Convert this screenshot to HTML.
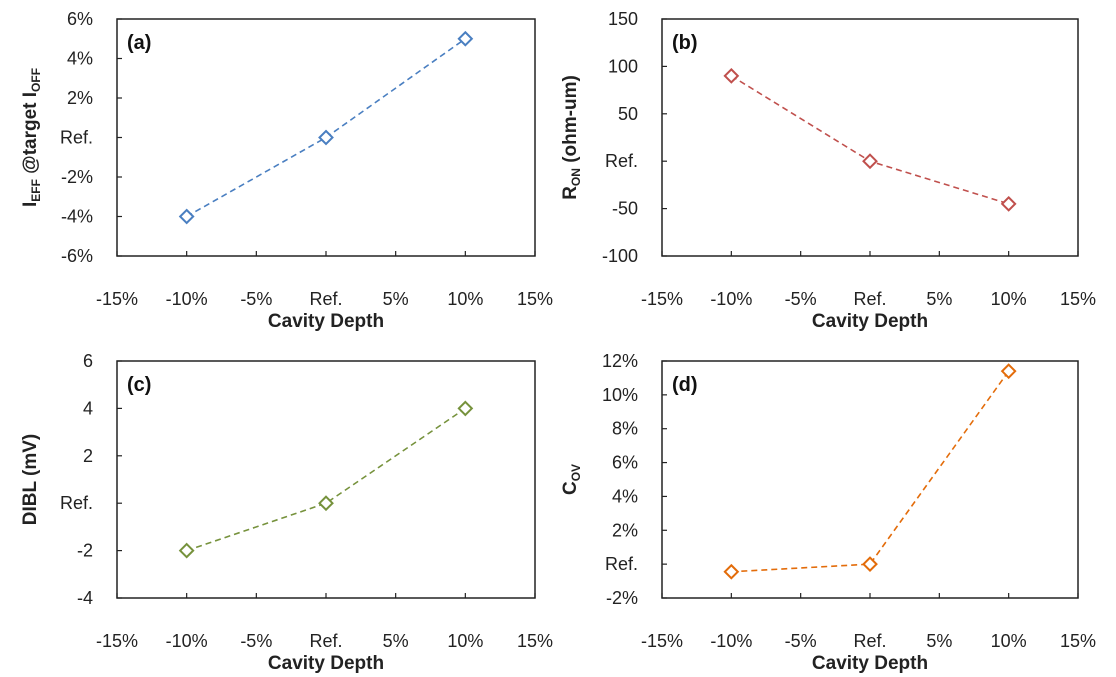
<!DOCTYPE html>
<html><head><meta charset="utf-8"><style>
html,body{margin:0;padding:0;background:#fff;}
svg{display:block;font-family:"Liberation Sans",sans-serif;}
</style></head><body>
<svg id="fig" width="1116" height="677" viewBox="0 0 1116 677"></svg>
<script>
const xCats = [-10, 0, 10];
const xTicks = [-15, -10, -5, 0, 5, 10, 15];
const xTickLabels = ["-15%", "-10%", "-5%", "Ref.", "5%", "10%", "15%"];
const seriesA = [-4, 0, 5];
const seriesB = [90, 0, -45];
const seriesC = [-2, 0, 4];
const seriesD = [-0.45, 0, 11.4];
const yTicksA = [-6, -4, -2, 0, 2, 4, 6];
const yLabelsA = ["-6%", "-4%", "-2%", "Ref.", "2%", "4%", "6%"];
const yTicksB = [-100, -50, 0, 50, 100, 150];
const yLabelsB = ["-100", "-50", "Ref.", "50", "100", "150"];
const yTicksC = [-4, -2, 0, 2, 4, 6];
const yLabelsC = ["-4", "-2", "Ref.", "2", "4", "6"];
const yTicksD = [-2, 0, 2, 4, 6, 8, 10, 12];
const yLabelsD = ["-2%", "Ref.", "2%", "4%", "6%", "8%", "10%", "12%"];

const NS = "http://www.w3.org/2000/svg";
const svg = document.getElementById("fig");
function mk(tag, attrs, parent) {
  const e = document.createElementNS(NS, tag);
  for (const k in attrs) e.setAttribute(k, attrs[k]);
  (parent || svg).appendChild(e);
  return e;
}
function panel(cfg) {
  const g = mk("g", {});
  
  
  const L = cfg.x0, R = cfg.x1, T = cfg.y0, B = cfg.y1;
  const yMin = cfg.yTicks[0], yMax = cfg.yTicks[cfg.yTicks.length - 1];
  const sx = v => L + (v - xTicks[0]) / (xTicks[xTicks.length - 1] - xTicks[0]) * (R - L);
  const sy = v => B - (v - yMin) / (yMax - yMin) * (B - T);
  const frame = mk("rect", {x: L, y: T, width: R - L, height: B - T, fill: "none", stroke: "#222", "stroke-width": 1.5}, g);
  
  
  xTicks.forEach((t, i) => {
    const x = sx(t);
    mk("line", {x1: x, x2: x, y1: B, y2: B - 5, stroke: "#222", "stroke-width": 1.2}, g);
    const tx = mk("text", {x: x, y: B + 49, "text-anchor": "middle", "font-size": 18, fill: "#222"}, g);
    tx.textContent = xTickLabels[i];
    
    
  });
  cfg.yTicks.forEach((t, i) => {
    const y = sy(t);
    mk("line", {x1: L, x2: L + 5, y1: y, y2: y, stroke: "#222", "stroke-width": 1.2}, g);
    const ty = mk("text", {x: L - 24, y: y + 6, "text-anchor": "end", "font-size": 18, fill: "#222"}, g);
    ty.textContent = cfg.yLabels[i];
    
    
  });
  const xt = mk("text", {x: (L + R) / 2, y: B + 71, "text-anchor": "middle", "font-size": 19, "font-weight": "bold", fill: "#222"}, g);
  xt.textContent = "Cavity Depth";
  
  
  const yt = mk("text", {x: 0, y: 0, "text-anchor": "middle", "font-size": 19, "font-weight": "bold", fill: "#222",
    transform: "translate(" + cfg.ytx + "," + (T + B) / 2 + ") rotate(-90)"}, g);
  yt.innerHTML = cfg.ytitle;
  
  
  const lab = mk("text", {x: L + 10, y: T + 30, "font-size": 20, "font-weight": "bold", fill: "#111"}, g);
  lab.textContent = "(" + cfg.id + ")";
  
  
  const pts = xCats.map((c, i) => [sx(c), sy(cfg.data[i])]);
  const line = mk("polyline", {points: pts.map(p => p.join(",")).join(" "), fill: "none", stroke: cfg.color, "stroke-width": 1.6, "stroke-dasharray": "6,4"}, g);
  
  
  pts.forEach(p => {
    const d = 6.5;
    const m = mk("polygon", {points: [p[0], p[1] - d, p[0] + d, p[1], p[0], p[1] + d, p[0] - d, p[1]].join(","), fill: "#fff", stroke: cfg.color, "stroke-width": 2}, g);
    
    
  });
}
panel({id: "a", x0: 117, x1: 535, y0: 19, y1: 256, yTicks: yTicksA, yLabels: yLabelsA, data: seriesA, color: "#4a7fc1", ytx: 36,
  ytitle: 'I<tspan font-size="12" dy="4">EFF</tspan><tspan dy="-4"> @target I</tspan><tspan font-size="12" dy="4">OFF</tspan>'});
panel({id: "b", x0: 662, x1: 1078, y0: 19, y1: 256, yTicks: yTicksB, yLabels: yLabelsB, data: seriesB, color: "#c0504d", ytx: 576,
  ytitle: 'R<tspan font-size="12" dy="4">ON</tspan><tspan dy="-4"> (ohm-um)</tspan>'});
panel({id: "c", x0: 117, x1: 535, y0: 361, y1: 598, yTicks: yTicksC, yLabels: yLabelsC, data: seriesC, color: "#76923c", ytx: 36,
  ytitle: 'DIBL (mV)'});
panel({id: "d", x0: 662, x1: 1078, y0: 361, y1: 598, yTicks: yTicksD, yLabels: yLabelsD, data: seriesD, color: "#e36c0a", ytx: 576,
  ytitle: 'C<tspan font-size="12" dy="4">OV</tspan>'});
</script>
</body></html>
